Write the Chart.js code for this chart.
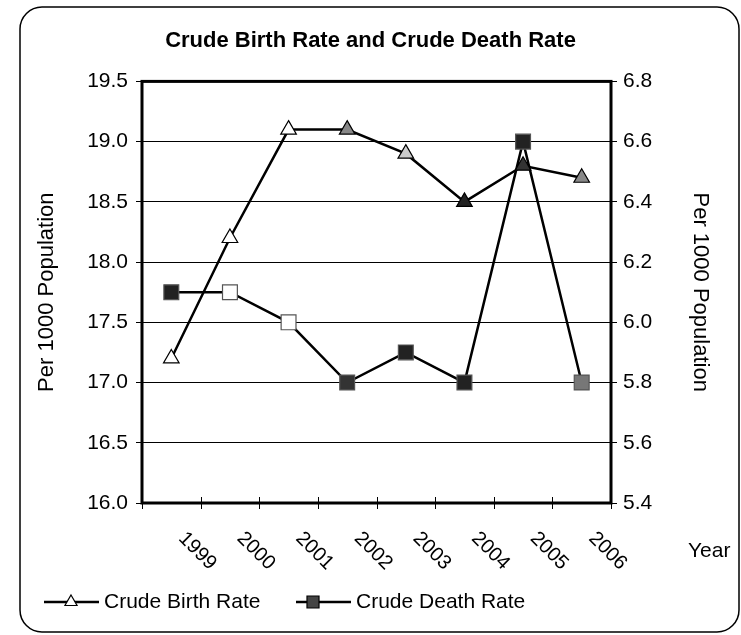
<!DOCTYPE html>
<html>
<head>
<meta charset="utf-8">
<title>Crude Birth Rate and Crude Death Rate</title>
<script src="https://cdn.jsdelivr.net/npm/chart.js@4.4.0/dist/chart.umd.min.js"></script>
<style>
    body { margin: 0; background: #fff; }
    canvas { display: block; }
</style>
</head>
<body>
<canvas id="rateChart" width="741" height="635"></canvas>
<script>
//DATOS DEL GRAFICO
const years = ['1999', '2000', '2001', '2002', '2003', '2004', '2005', '2006'];
const birthRate = [17.2, 18.2, 19.1, 19.1, 18.9, 18.5, 18.8, 18.7];   // eje izquierdo
const deathRate = [6.1, 6.1, 6.0, 5.8, 5.9, 5.8, 6.6, 5.8];            // eje derecho
const birthTicks = [16.0, 16.5, 17.0, 17.5, 18.0, 18.5, 19.0, 19.5];
const deathTicks = [5.4, 5.6, 5.8, 6.0, 6.2, 6.4, 6.6, 6.8];

const FONT = '"Liberation Sans", Arial, sans-serif';

// rellenos de los marcadores (la imagen original es un escaneo, unos salen oscuros)
const triangleFills = ['#fff', '#fff', '#fff', '#888', '#ccc', '#222', '#333', '#888'];
const squareFills = ['#222', '#fff', '#fff', '#333', '#222', '#222', '#222', '#777'];

// Marco redondeado, borde del area de trazado, etiquetas de años y leyenda
const decoraciones = {
    id: 'decoraciones',
    beforeDraw(chart) {
        const ctx = chart.ctx;
        ctx.save();
        ctx.fillStyle = '#fff';
        ctx.fillRect(0, 0, chart.width, chart.height);
        ctx.strokeStyle = '#000';
        ctx.lineWidth = 1.5;
        ctx.beginPath();
        ctx.roundRect(20, 7, 719, 625, 22);
        ctx.stroke();
        ctx.restore();
    },
    afterDraw(chart) {
        const ctx = chart.ctx;
        const area = chart.chartArea;
        const xs = chart.scales.x;
        ctx.save();
        // borde del area
        ctx.strokeStyle = '#000';
        ctx.lineWidth = 3;
        ctx.strokeRect(area.left, area.top, area.right - area.left, area.bottom - area.top);

        // marcas del eje x que cruzan la linea
        ctx.lineWidth = 1;
        for (let i = 0; i <= years.length; i++) {
            const px = Math.round(xs.getPixelForValue(i - 0.5)) + 0.5;
            ctx.beginPath();
            ctx.moveTo(px, area.bottom - 6);
            ctx.lineTo(px, area.bottom + 6);
            ctx.stroke();
        }

        // años girados 45 grados hacia abajo
        ctx.font = '20px ' + FONT;
        ctx.fillStyle = '#000';
        ctx.textAlign = 'center';
        ctx.textBaseline = 'middle';
        years.forEach((yr, i) => {
            const px = xs.getPixelForValue(i);
            ctx.save();
            ctx.translate(px + 26, 551);
            ctx.rotate(Math.PI / 4);
            ctx.fillText(yr, 0, 0);
            ctx.restore();
        });
        ctx.font = '21px ' + FONT;
        ctx.textAlign = 'left';
        ctx.fillText('Year', 688, 551);

        // leyenda: linea + marcador + texto
        const items = [
            { ds: 0, x0: 44, x1: 99, mx: 71, tx: 104, fill: '#fff' },
            { ds: 1, x0: 296, x1: 351, mx: 313, tx: 356, fill: '#444' }
        ];
        items.forEach(it => {
            const ds = chart.data.datasets[it.ds];
            ctx.strokeStyle = '#000';
            ctx.lineWidth = 2.5;
            ctx.beginPath();
            ctx.moveTo(it.x0, 602);
            ctx.lineTo(it.x1, 602);
            ctx.stroke();
            ctx.fillStyle = it.fill;
            ctx.lineWidth = 1.2;
            Chart.helpers.drawPoint(ctx, {
                pointStyle: ds.pointStyle, radius: ds.pointRadius - 2, rotation: 0, borderWidth: 1.2
            }, it.mx, 602);
            ctx.fillStyle = '#000';
            ctx.fillText(ds.label, it.tx, 602);
        });
        ctx.restore();
    }
};

document.addEventListener('DOMContentLoaded', () => {
    const ctx = document.getElementById('rateChart').getContext('2d');
    new Chart(ctx, {
        type: 'line',
        data: {
            labels: years,
            datasets: [{
                label: 'Crude Birth Rate',
                data: birthRate,
                yAxisID: 'y',
                borderColor: '#000',
                borderWidth: 2.5,
                pointStyle: 'triangle',
                pointRadius: 9,
                pointBackgroundColor: triangleFills,
                pointBorderColor: '#000',
                pointBorderWidth: 1.2,
                tension: 0
            }, {
                label: 'Crude Death Rate',
                data: deathRate,
                yAxisID: 'y1',
                borderColor: '#000',
                borderWidth: 2.5,
                pointStyle: 'rect',
                pointRadius: 10.5,
                pointBackgroundColor: squareFills,
                pointBorderColor: '#555',
                pointBorderWidth: 1.2,
                tension: 0
            }]
        },
        options: {
            responsive: false,
            animation: false,
            layout: { padding: 0 },
            plugins: {
                legend: { display: false },
                tooltip: { enabled: false },
                title: {
                    display: true,
                    text: 'Crude Birth Rate and Crude Death Rate',
                    color: '#000',
                    font: { family: FONT, size: 22, weight: 'bold' },
                    padding: { top: 28, bottom: 27 }
                }
            },
            scales: {
                x: {
                    offset: true,
                    afterFit: s => { s.height = 132; },
                    grid: { offset: true, display: false },
                    border: { display: false },
                    ticks: { display: false }
                },
                y: {
                    position: 'left',
                    min: birthTicks[0],
                    max: birthTicks[birthTicks.length - 1],
                    afterBuildTicks: s => { s.ticks = birthTicks.map(v => ({ value: v })); },
                    afterFit: s => { s.width = 142; },
                    grid: { color: '#000', lineWidth: 1, tickLength: 6 },
                    border: { display: false },
                    ticks: {
                        color: '#000',
                        padding: 8,
                        font: { family: FONT, size: 21 },
                        callback: v => Number(v).toFixed(1)
                    },
                    title: {
                        display: true,
                        text: 'Per 1000 Population',
                        color: '#000',
                        font: { family: FONT, size: 22 },
                        padding: { top: 34 }
                    }
                },
                y1: {
                    position: 'right',
                    min: deathTicks[0],
                    max: deathTicks[deathTicks.length - 1],
                    afterBuildTicks: s => { s.ticks = deathTicks.map(v => ({ value: v })); },
                    afterFit: s => { s.width = 130; },
                    grid: { drawOnChartArea: false, color: '#000', lineWidth: 1, tickLength: 6 },
                    border: { display: false },
                    ticks: {
                        color: '#000',
                        padding: 6,
                        font: { family: FONT, size: 21 },
                        callback: v => Number(v).toFixed(1)
                    },
                    title: {
                        display: true,
                        text: 'Per 1000 Population',
                        color: '#000',
                        font: { family: FONT, size: 22 },
                        padding: { top: 28 }
                    }
                }
            }
        },
        plugins: [decoraciones]
    });
});
</script>
</body>
</html>
